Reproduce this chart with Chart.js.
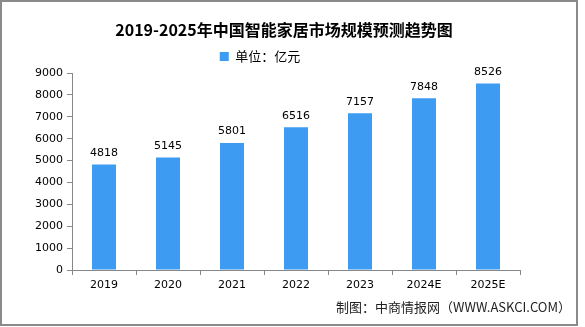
<!DOCTYPE html>
<html>
<head>
<meta charset="utf-8">
<script src="https://cdn.jsdelivr.net/npm/chart.js@4"></script>
<style>
  html, body { margin: 0; padding: 0; background: #fff; }
  #wrap { width: 585px; height: 327px; }
</style>
</head>
<body>
<div id="wrap"><canvas id="marketChart" width="585" height="327"></canvas></div>
<script>
// 2019-2025年中国智能家居市场规模（亿元）
const years = ["2019", "2020", "2021", "2022", "2023", "2024E", "2025E"];
const marketSize = [4818, 5145, 5801, 6516, 7157, 7848, 8526];
const yTicks = [0, 1000, 2000, 3000, 4000, 5000, 6000, 7000, 8000, 9000];

const titleText = "2019-2025年中国智能家居市场规模预测趋势图";
const unitLabel = "单位：亿元";
const sourceText = "制图：中商情报网（WWW.ASKCI.COM）";

const labelFont = "11px 'DejaVu Sans', sans-serif";

// 背景、边框、标题、数值标签、来源
const decorPlugin = {
    id: "decor",
    beforeDraw(chart) {
        const c = chart.ctx;
        c.save();
        c.fillStyle = "#fff";
        c.fillRect(0, 0, chart.width, chart.height);
        c.strokeStyle = "#8a8a8a";
        c.lineWidth = 2;
        c.strokeRect(1, 1, 576, 324);
        c.fillStyle = "#000";
        c.font = "bold 16px 'Noto Sans CJK SC', sans-serif";
        c.textAlign = "center";
        c.textBaseline = "middle";
        c.fillText(titleText, 284, 30);
        c.restore();
    },
    afterDatasetsDraw(chart) {
        const c = chart.ctx;
        const meta = chart.getDatasetMeta(0);
        c.save();
        c.font = labelFont;
        c.fillStyle = "#000";
        c.textAlign = "center";
        c.textBaseline = "bottom";
        meta.data.forEach((bar, i) => {
            c.fillText(marketSize[i], bar.x, bar.y - 6);
        });
        c.font = "13px 'Noto Sans CJK SC', sans-serif";
        c.fillStyle = "#222";
        c.textAlign = "right";
        c.textBaseline = "middle";
        c.fillText(sourceText, 571, 307);
        c.restore();
    }
};

new Chart(document.getElementById("marketChart").getContext("2d"), {
    type: "bar",
    data: {
        labels: years,
        datasets: [
            {
                label: unitLabel,
                data: marketSize,
                backgroundColor: "#3d9bf2",
                borderWidth: 0,
                categoryPercentage: 1,
                barPercentage: 0.375,
            },
        ],
    },
    options: {
        responsive: false,
        animation: false,
        layout: { padding: { top: 45, right: 65, bottom: 0, left: 0 } },
        plugins: {
            title: { display: false },
            legend: {
                display: true,
                labels: {
                    boxWidth: 9,
                    boxHeight: 9,
                    padding: 5,
                    color: "#000",
                    font: { size: 13, family: "'Noto Sans CJK SC', sans-serif" },
                },
            },
            tooltip: { enabled: false },
        },
        scales: {
            x: {
                grid: {
                    drawOnChartArea: false,
                    color: "#888",
                    tickLength: 5,
                    offset: true,
                },
                border: { color: "#888" },
                ticks: { color: "#000", font: { size: 11, family: "'DejaVu Sans', sans-serif" }, padding: 4 },
                afterFit(scale) { scale.height = 57; },
            },
            y: {
                min: 0,
                max: 9000,
                afterBuildTicks(scale) { scale.ticks = yTicks.map(v => ({ value: v })); },
                grid: {
                    drawOnChartArea: false,
                    color: "#888",
                    tickLength: 5,
                },
                border: { color: "#888" },
                ticks: {
                    color: "#000",
                    font: { size: 11, family: "'DejaVu Sans', sans-serif" },
                    padding: 4,
                    callback: v => String(v),
                },
                afterFit(scale) { scale.width = 72; },
            },
        },
    },
    plugins: [decorPlugin],
});
</script>
</body>
</html>
